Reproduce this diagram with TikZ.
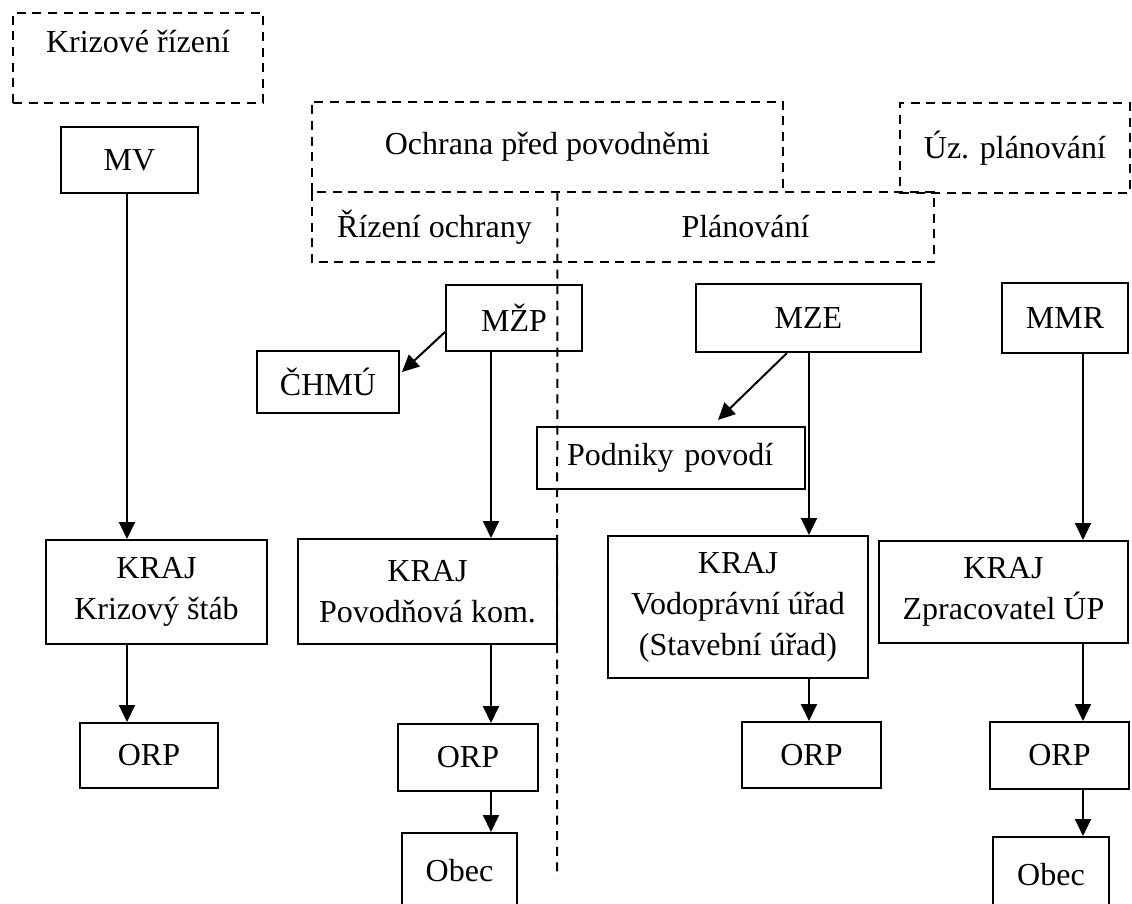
\documentclass[tikz,border=0pt]{standalone}
\usepackage{fontspec}
\setmainfont{Liberation Serif}
\usetikzlibrary{arrows.meta}
\tikzset{
  box/.style={draw,line width=1pt,inner sep=0pt,align=center,font=\fontsize{16}{20.5}\selectfont},
  region/.style={inner sep=0pt,font=\fontsize{16}{20.5}\selectfont},
  dashline/.style={dash pattern=on 4.5pt off 3.3pt,line width=1pt},
  arr/.style={-{Triangle[length=8.5pt,width=8pt]},line width=1pt}
}

\begin{document}
\begin{tikzpicture}[x=0.5pt,y=-0.5pt]
  \useasboundingbox (0,0) rectangle (1132,904);

    % Define the x positions of the vertical connectors
    \def\colA{127}    % Krizove rizeni
    \def\colB{491}    % Rizeni ochrany
    \def\colC{809}    % Planovani
    \def\colD{1083}   % Uzemni planovani
    \coordinate (colA) at (\colA,0);
    \coordinate (colB) at (\colB,0);
    \coordinate (colC) at (\colC,0);
    \coordinate (colD) at (\colD,0);

    % -- Dashed regions (areas of competence) --
    \node[region,draw,dashline,minimum width=125pt,minimum height=45pt,text height=20pt,text depth=25pt] (kriz) at (138,58) {Krizové řízení};
    \node[region,minimum width=235.5pt,minimum height=45pt] (ochrana) at (547.5,147) {Ochrana před povodněmi};
    \node[region,draw,dashline,minimum width=115pt,minimum height=45pt] (uzplan) at (1015,148) {Úz. plánování};
    \node[region,minimum width=122.5pt,minimum height=35pt] (rizeni) at (434.5,227) {Řízení ochrany};
    \node[region,minimum width=188.5pt,minimum height=35pt] (planovani) at (745.5,227) {Plánování};

    % -- Outlines: Ochrana sits on top of Rizeni ochrany + Planovani --
    \draw[dashline] (ochrana.south west) |- (ochrana.north east) -- (ochrana.south east);
    \draw[dashline] (rizeni.north west) rectangle (planovani.south east);

    % -- Dashed divider between Rizeni ochrany and Planovani --
    \coordinate (divEnd) at (557,878);
    \draw[dashline] (rizeni.north east) -- (divEnd);

    % -- Ministries --
    \node[box,minimum width=68.5pt,minimum height=33pt] (mv) at (129.5,160) {MV};
    \node[box,minimum width=68pt,minimum height=33pt] (mzp) at (514,318) {MŽP};
    \node[box,minimum width=112.5pt,minimum height=34pt] (mze) at (808.5,318) {MZE};
    \node[box,minimum width=63pt,minimum height=35pt] (mmr) at (1065,318) {MMR};

    % -- Subordinate bodies --
    \node[box,minimum width=71pt,minimum height=31pt] (chmu) at (328,382) {ČHMÚ};
    \node[box,text width=104pt,align=left,inner xsep=15pt,minimum height=31pt] (podniky) at (671,458) {Podniky povodí};

    % -- Regional level --
    \node[box,minimum width=110.5pt,minimum height=52pt] (krajA) at (156.5,592) {KRAJ\\Krizový štáb};
    \node[box,minimum width=129.5pt,minimum height=52.5pt] (krajB) at (427.5,591.5) {KRAJ\\Povodňová kom.};
    \node[box,minimum width=130pt,minimum height=71pt] (krajC) at (738,607) {KRAJ\\Vodoprávní úřad\\(Stavební úřad)};
    \node[box,minimum width=124.5pt,minimum height=51pt] (krajD) at (1003.5,592) {KRAJ\\Zpracovatel ÚP};

    % -- ORP and Obec level --
    \node[box,minimum width=69pt,minimum height=32.5pt] (orpA) at (149,755.5) {ORP};
    \node[box,minimum width=70pt,minimum height=33.5pt] (orpB) at (468,757.5) {ORP};
    \node[box,minimum width=69.5pt,minimum height=33pt] (orpC) at (811.5,755) {ORP};
    \node[box,minimum width=69.5pt,minimum height=33.5pt] (orpD) at (1059.5,755.5) {ORP};
    \node[box,minimum width=57.5pt,minimum height=38pt] (obecB) at (459.5,871) {Obec};
    \node[box,minimum width=58pt,minimum height=38pt] (obecD) at (1051,875) {Obec};

    % -- Vertical connectors --
    \draw[arr] (mv.south -| colA) -- (krajA.north -| colA);
    \draw[arr] (krajA.south -| colA) -- (orpA.north -| colA);

    \draw[arr] (mzp.south -| colB) -- (krajB.north -| colB);
    \draw[arr] (krajB.south -| colB) -- (orpB.north -| colB);
    \draw[arr] (orpB.south -| colB) -- (obecB.north -| colB);

    \draw[arr] (mze.south -| colC) -- (krajC.north -| colC);
    \draw[arr] (krajC.south -| colC) -- (orpC.north -| colC);

    \draw[arr] (mmr.south -| colD) -- (krajD.north -| colD);
    \draw[arr] (krajD.south -| colD) -- (orpD.north -| colD);
    \draw[arr] (orpD.south -| colD) -- (obecD.north -| colD);

    % -- Diagonal connectors to the subordinate bodies --
    \coordinate (chmuTip) at (402,372);
    \coordinate (podnikyTip) at (718,420);
    \draw[arr] ([yshift=-7pt]mzp.west) -- (chmuTip);
    \draw[arr] ([xshift=-10.75pt]mze.south) -- (podnikyTip);

\end{tikzpicture}
\end{document}
